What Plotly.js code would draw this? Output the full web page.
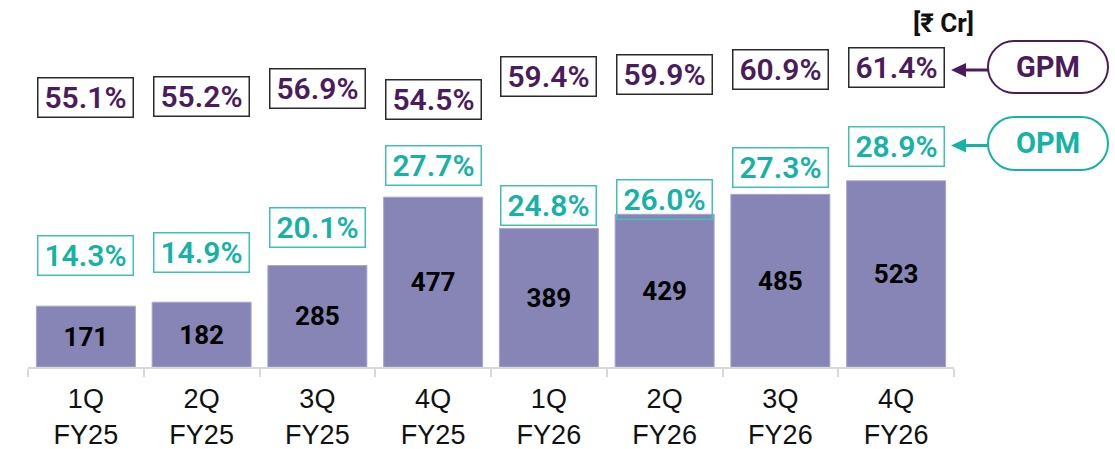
<!DOCTYPE html>
<html>
<head>
<meta charset="utf-8">
<script src="https://cdn.plot.ly/plotly-3.0.1.min.js"></script>
<style>html,body{margin:0;padding:0;background:#fff;}#chart{width:1115px;height:449px;}</style>
</head>
<body>
<div id="chart"></div>
<script>
// ---- data ----
const quarters = ['1Q', '2Q', '3Q', '4Q', '1Q', '2Q', '3Q', '4Q'];
const fiscalYears = ['FY25', 'FY25', 'FY25', 'FY25', 'FY26', 'FY26', 'FY26', 'FY26'];
const revenue = [171, 182, 285, 477, 389, 429, 485, 523];
const gpm = [55.1, 55.2, 56.9, 54.5, 59.4, 59.9, 60.9, 61.4];
const opm = [14.3, 14.9, 20.1, 27.7, 24.8, 26.0, 27.3, 28.9];
const unitLabel = '[₹ Cr]';
const gpmLabel = 'GPM';
const opmLabel = 'OPM';

// ---- layout helpers ----
const categories = quarters.map((q, i) => q + '<br>' + fiscalYears[i]);
const ML = 28, MR = 0, MT = 0, MB = 82, FW = 1115, FH = 449;
const PW = FW - ML - MR, PH = FH - MT - MB;
const xp = px => (px - ML) / PW;
const yp = py => (FH - MB - py) / PH;
const P = (px, py) => xp(px).toFixed(5) + ',' + yp(py).toFixed(5);

function pillPath(x0, y0, x1, y1) {
  const r = (y1 - y0) / 2, k = 0.5523 * r;
  return 'M' + P(x0 + r, y0) + ' L' + P(x1 - r, y0) +
    ' C' + P(x1 - r + k, y0) + ' ' + P(x1, y0 + r - k) + ' ' + P(x1, y0 + r) +
    ' C' + P(x1, y0 + r + k) + ' ' + P(x1 - r + k, y1) + ' ' + P(x1 - r, y1) +
    ' L' + P(x0 + r, y1) +
    ' C' + P(x0 + r - k, y1) + ' ' + P(x0, y0 + r + k) + ' ' + P(x0, y0 + r) +
    ' C' + P(x0, y0 + r - k) + ' ' + P(x0 + r - k, y0) + ' ' + P(x0 + r, y0) + ' Z';
}
function arrowHead(tipX, y, len, half) {
  return 'M' + P(tipX, y) + ' L' + P(tipX + len, y - half) + ' L' + P(tipX + len, y + half) + ' Z';
}

const PURPLE = '#4a1c5c';
const TEAL = '#16b2a5';
const TEAL_BORDER = '#3fc1b6';
const BAR = '#8685b6';
const FONT = 'Roboto, "Noto Sans", "Liberation Sans", sans-serif';
const TICKFONT = '"Liberation Sans", Arial, sans-serif';

const opmNudge = [0, 0, 0, 26, 0, 0, 26, 39];

const annotations = [];
categories.forEach((c, i) => {
  annotations.push({
    xref: 'x', yref: 'y2', x: c, y: gpm[i],
    text: gpm[i].toFixed(1) + '%', showarrow: false,
    width: 94, height: 38, borderpad: 0, borderwidth: 1.5, bordercolor: '#2a2a2a',
    font: {family: FONT, size: 30, color: PURPLE, weight: 600},
    xanchor: 'center', yanchor: 'middle'
  });
  annotations.push({
    xref: 'x', yref: 'y3', x: c, y: opm[i], yshift: opmNudge[i],
    text: opm[i].toFixed(1) + '%', showarrow: false,
    width: 94, height: 38, borderpad: 0, borderwidth: 1.5, bordercolor: TEAL_BORDER,
    font: {family: FONT, size: 30, color: TEAL, weight: 600},
    xanchor: 'center', yanchor: 'middle'
  });
});
annotations.push({
  xref: 'paper', yref: 'paper', x: xp(943), y: yp(23), text: '<b>' + unitLabel + '</b>',
  showarrow: false, font: {family: FONT, size: 26, color: '#111'}, xanchor: 'center', yanchor: 'middle'
});
annotations.push({
  xref: 'paper', yref: 'paper', x: xp(1048), y: yp(67), text: '<b>' + gpmLabel + '</b>',
  showarrow: false, font: {family: FONT, size: 29, color: PURPLE}, xanchor: 'center', yanchor: 'middle'
});
annotations.push({
  xref: 'paper', yref: 'paper', x: xp(1048), y: yp(143.5), text: '<b>' + opmLabel + '</b>',
  showarrow: false, font: {family: FONT, size: 29, color: TEAL}, xanchor: 'center', yanchor: 'middle'
});

const shapes = [
  {type: 'path', xref: 'paper', yref: 'paper', path: pillPath(988, 41, 1108, 93), line: {color: PURPLE, width: 2}},
  {type: 'path', xref: 'paper', yref: 'paper', path: pillPath(988, 117, 1108, 170), line: {color: TEAL, width: 2}},
  {type: 'line', xref: 'paper', yref: 'paper', x0: xp(964), x1: xp(988), y0: yp(70), y1: yp(70), line: {color: PURPLE, width: 3}},
  {type: 'path', xref: 'paper', yref: 'paper', path: arrowHead(951, 70, 15, 7), fillcolor: PURPLE, line: {width: 0}},
  {type: 'line', xref: 'paper', yref: 'paper', x0: xp(964), x1: xp(988), y0: yp(145.5), y1: yp(145.5), line: {color: TEAL, width: 3}},
  {type: 'path', xref: 'paper', yref: 'paper', path: arrowHead(951, 145.5, 15, 7), fillcolor: TEAL, line: {width: 0}}
];

const trace = {
  type: 'bar', x: categories, y: revenue,
  marker: {color: BAR, line: {color: '#a7a6cc', width: 1}},
  text: revenue.map(String), textposition: 'inside', insidetextanchor: 'middle',
  textangle: 0, constraintext: 'none',
  textfont: {family: FONT, size: 26, color: '#000', weight: 700},
  hoverinfo: 'skip', cliponaxis: false
};

const layout = {
  width: FW, height: FH,
  margin: {l: ML, r: MR, t: MT, b: MB, pad: 0},
  paper_bgcolor: '#fff', plot_bgcolor: '#fff',
  showlegend: false, bargap: 0.145,
  font: {family: FONT},
  xaxis: {
    domain: [0, (954 - ML) / PW], type: 'category', range: [-0.5, 7.5],
    showline: true, linecolor: '#d9d9d9', linewidth: 2,
    ticks: 'outside', tickson: 'boundaries', ticklen: 8, tickwidth: 2, tickcolor: '#d9d9d9',
    tickfont: {family: TICKFONT, size: 27, color: '#111'}, ticklabelstandoff: 7,
    showgrid: false, zeroline: false, fixedrange: true
  },
  yaxis: {range: [0, 1031], visible: false, showgrid: false, zeroline: false, fixedrange: true},
  yaxis2: {range: [55.1 - 270 / 4.75, 55.1 + 97 / 4.75], overlaying: 'y', visible: false, showgrid: false, zeroline: false},
  yaxis3: {range: [14.3 - 112 / 4.75, 14.3 + 255 / 4.75], overlaying: 'y', visible: false, showgrid: false, zeroline: false},
  annotations: annotations,
  shapes: shapes
};

Plotly.newPlot('chart', [trace], layout, {displayModeBar: false, staticPlot: true});
</script>
</body>
</html>
